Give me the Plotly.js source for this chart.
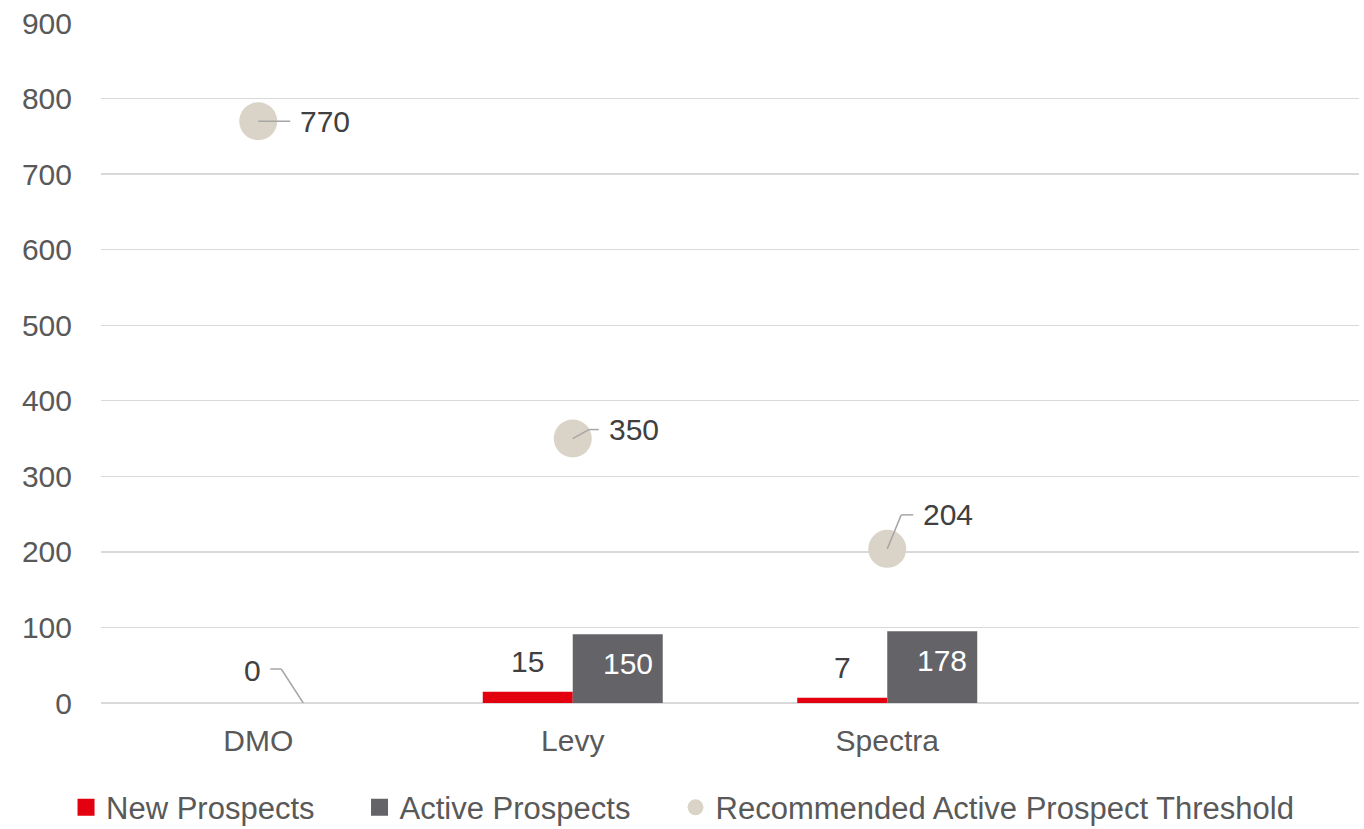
<!DOCTYPE html>
<html>
<head>
<meta charset="utf-8">
<script src="https://cdn.plot.ly/plotly-3.0.1.min.js"></script>
<style>
  html, body { margin: 0; padding: 0; background: #ffffff; }
  #chart { width: 1364px; height: 829px; }
</style>
</head>
<body>
<div id="chart"></div>
<script>
// ---- Data ----
const categories = ['DMO', 'Levy', 'Spectra'];
const newProspects = [null, 15, 7];
const newProspectLabels = ['', '15', '7'];
const activeBarHeights = [0, 91, 95];
const activeLabels = ['0', '150', '178'];
const threshold = [770, 350, 204];
const thresholdLabels = ['770', '350', '204'];
const seriesNames = ['New Prospects', 'Active Prospects', 'Recommended Active Prospect Threshold'];
const yTicks = [0, 100, 200, 300, 400, 500, 600, 700, 800, 900];

// ---- Style ----
const FONT = 'Liberation Sans, Arial, sans-serif';
const RED = '#E3000F';
const GREY = '#636368';
const BEIGE = '#D9D4C7';
const LABEL = '#404040';
const AXIS_TXT = '#595959';
const LEADER = '#A6A6A6';
const BAR_OFF = 45; // half bar width in px

const traces = [
  {
    type: 'bar', name: seriesNames[0], x: categories, y: newProspects,
    marker: { color: RED }, hoverinfo: 'skip', legend: 'legend'
  },
  {
    type: 'bar', name: seriesNames[1], x: categories, y: activeBarHeights,
    marker: { color: GREY }, hoverinfo: 'skip', legend: 'legend2'
  },
  {
    type: 'scatter', mode: 'markers', name: seriesNames[2], x: categories, y: threshold,
    marker: { color: BEIGE, size: 38 }, hoverinfo: 'skip', legend: 'legend3'
  }
];

const annotations = [];
const shapes = [];
const lbl = (x, y, text, xs, ys, color) => ({
  x: x, y: y, xref: 'x', yref: 'y', text: text, showarrow: false,
  xanchor: 'center', yanchor: 'middle', xshift: xs, yshift: ys,
  font: { family: FONT, size: 30, color: color }
});
const seg = (x, y, a, b, c, d) => ({
  type: 'line', xref: 'x', yref: 'y', xsizemode: 'pixel', ysizemode: 'pixel',
  xanchor: x, yanchor: y, x0: a, y0: b, x1: c, y1: d, layer: 'above',
  line: { color: LEADER, width: 1.5 }
});

categories.forEach((c, i) => {
  if (newProspects[i] !== null && newProspectLabels[i] !== '') {
    annotations.push(lbl(c, newProspects[i], newProspectLabels[i], -BAR_OFF, 30, LABEL));
  }
  if (activeBarHeights[i] === 0) {
    annotations.push(lbl(c, activeBarHeights[i], activeLabels[i], -6, 33, LABEL));
    shapes.push(seg(c, activeBarHeights[i], BAR_OFF, 0, 23, 34));
    shapes.push(seg(c, activeBarHeights[i], 23, 34, 12, 34));
  } else {
    annotations.push(lbl(c, activeBarHeights[i], activeLabels[i], BAR_OFF + 10, -29, '#FFFFFF'));
  }
});

const thrPlace = [
  { dx: 66.5, dy: 0, segs: [[0, 0, 32, 0]] },
  { dx: 61, dy: 9.5, segs: [[0, 0, 16, 9], [16, 9, 26, 9]] },
  { dx: 61, dy: 34, segs: [[0, 0, 14, 34], [14, 34, 26, 34]] }
];
categories.forEach((c, i) => {
  const p = thrPlace[i];
  annotations.push(lbl(c, threshold[i], thresholdLabels[i], p.dx, p.dy, LABEL));
  p.segs.forEach(s => shapes.push(seg(c, threshold[i], s[0], s[1], s[2], s[3])));
});

const legendBase = (x) => ({
  orientation: 'h', x: x, xanchor: 'left', y: -0.154, yanchor: 'middle',
  font: { family: FONT, size: 31, color: AXIS_TXT },
  itemclick: false, itemdoubleclick: false, bgcolor: 'rgba(0,0,0,0)'
});

const layout = {
  width: 1364, height: 829,
  margin: { l: 101, r: 5, t: 23, b: 126, autoexpand: false },
  paper_bgcolor: '#ffffff', plot_bgcolor: '#ffffff',
  font: { family: FONT, color: AXIS_TXT },
  barmode: 'group', bargap: 0.4277, bargroupgap: 0,
  showlegend: true,
  legend: legendBase(-0.0278),
  legend2: legendBase(0.2055),
  legend3: legendBase(0.4567),
  xaxis: {
    type: 'category', categoryorder: 'array', categoryarray: categories,
    range: [-0.5, 3.5], showgrid: false, zeroline: false, showline: false,
    ticks: '', tickfont: { family: FONT, size: 30, color: AXIS_TXT },
    ticklabelstandoff: 17, fixedrange: true
  },
  yaxis: {
    range: [0, 900], tickvals: yTicks, ticktext: yTicks.map(String),
    showgrid: true, gridcolor: '#D9D9D9', gridwidth: 1.3,
    zeroline: true, zerolinecolor: '#D9D9D9', zerolinewidth: 1.3,
    showline: false, ticks: '',
    tickfont: { family: FONT, size: 30, color: AXIS_TXT },
    ticklabelstandoff: 28, fixedrange: true
  },
  annotations: annotations,
  shapes: shapes
};

Plotly.newPlot('chart', traces, layout, { displayModeBar: false, staticPlot: true }).then(gd => {
  // enlarge bar legend swatches to match the reference square size
  gd.querySelectorAll('.legendpoints path').forEach(p => {
    if (!p.classList.contains('scatterpts')) {
      p.setAttribute('d', 'M8.5,8.5H-8.5V-8.5H8.5Z');
    }
  });
});
</script>
</body>
</html>
